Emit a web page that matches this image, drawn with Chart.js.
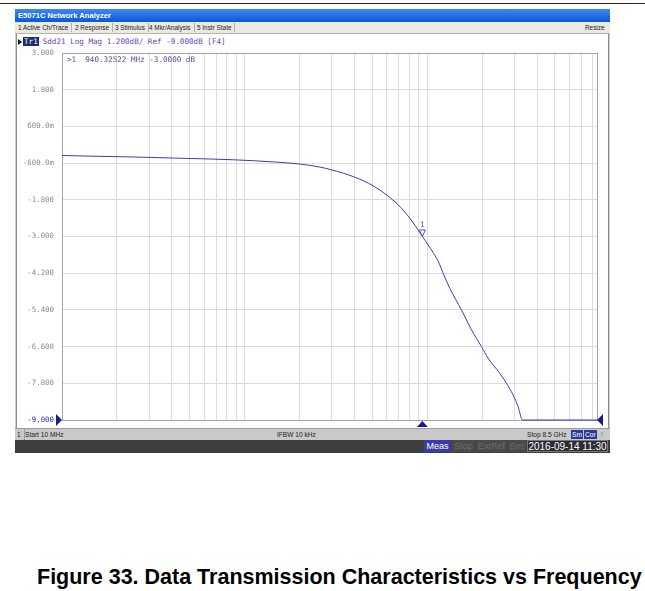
<!DOCTYPE html>
<html>
<head>
<meta charset="utf-8">
<title>Sdd21</title>
<script src="https://cdn.jsdelivr.net/npm/chart.js@4/dist/chart.umd.min.js"></script>
<style>
  body { margin: 0; width: 645px; height: 591px; background: #fff; position: relative; overflow: hidden; font-family: "Liberation Sans", Arial, sans-serif; }
  .abs { position: absolute; }
  #topRule { left: 0; top: 3px; width: 645px; height: 1px; background: #222; }
  #win { left: 15px; top: 9px; width: 595px; height: 444px; background: #d4d0c8; }
  #titlebar { left: 15px; top: 9px; width: 595px; height: 13px; background: linear-gradient(#3d88f4, #0a58d6); color: #fff; font: bold 7.6px "Liberation Sans", sans-serif; line-height: 13px; padding-left: 3px; box-sizing: border-box; }
  #menubar { left: 15px; top: 22px; width: 595px; height: 12px; background: #ece9e2; border-bottom: 1px solid #b4b4b4; box-sizing: border-box; }
  .menu { position: absolute; top: 1px; height: 9px; font: 6.4px "Liberation Sans", sans-serif; line-height: 9px; color: #222; border-right: 1px solid #b0b0b0; padding: 0 3px 0 0; white-space: nowrap; }
  #panel { left: 16px; top: 34px; width: 593px; height: 394px; background: #fff; border-left: 1px solid #8c8c8c; border-right: 1px solid #8c8c8c; box-sizing: border-box; }
  #traceRow { left: 18px; top: 37px; height: 9px; font: 7.6px "DejaVu Sans Mono", monospace; line-height: 9px; color: #6a44b0; white-space: pre; }
  #traceRow .arrow { display: inline-block; width: 0; height: 0; border-top: 3.5px solid transparent; border-bottom: 3.5px solid transparent; border-left: 4px solid #111; vertical-align: -1px; margin-right: 1px; }
  #traceRow .tr { background: #1c2a78; color: #fff; padding: 0 1px; margin-right: 4px; }
  #chartBox { left: 16px; top: 46px; width: 592px; height: 382px; }
  #status { left: 15px; top: 428px; width: 595px; height: 12px; background: #c9c9c9; border-top: 1px solid #9c9c9c; box-sizing: border-box; font: 6.6px "Liberation Sans", sans-serif; line-height: 11px; color: #222; }
  #status span { position: absolute; white-space: nowrap; }
  #status .box { background: #2a3a98; color: #fff; padding: 0 1px; line-height: 9px; top: 1px; }
  #dark { left: 15px; top: 440px; width: 595px; height: 13px; background: #3e3e3e; font: 9px "Liberation Sans", sans-serif; line-height: 12px; }
  #dark span { position: absolute; top: 0; height: 12px; white-space: nowrap; text-align: center; }
  #caption { left: 37px; top: 565px; font: bold 21.5px "Liberation Sans", Arial, sans-serif; color: #000; white-space: nowrap; }
</style>
</head>
<body>
<div class="abs" id="topRule"></div>
<div class="abs" id="win"></div>
<div class="abs" id="titlebar">E5071C Network Analyzer</div>
<div class="abs" id="menubar">
  <span class="menu" style="left:3px">1 Active Ch/Trace</span>
  <span class="menu" style="left:60px">2 Response</span>
  <span class="menu" style="left:100px">3 Stimulus</span>
  <span class="menu" style="left:134px">4 Mkr/Analysis</span>
  <span class="menu" style="left:182px">5 Instr State</span>
  <span class="menu" style="left:570px;border-right:none">Resize</span>
</div>
<div class="abs" id="panel"></div>
<div class="abs" id="traceRow"><span class="arrow"></span><span class="tr">Tr1</span>Sdd21 Log Mag 1.200dB/ Ref -9.000dB [F4]</div>
<div class="abs" id="chartBox"><canvas id="chart" width="592" height="382"></canvas></div>
<div class="abs" id="status">
  <span style="left:2px;border-right:1px solid #999;padding-right:3px">1</span>
  <span style="left:10px">Start 10 MHz</span>
  <span style="left:262px">IFBW 10 kHz</span>
  <span style="left:512px">Stop 8.5 GHz</span>
  <span class="box" style="left:556px">Sm</span>
  <span class="box" style="left:569px">Cor</span>
  <span style="left:586px;color:#777">!</span>
</div>
<div class="abs" id="dark">
  <span style="left:409px;width:27px;background:#3b3ba6;color:#fff">Meas</span>
  <span style="left:437px;width:23px;background:#4a4a4a;color:#6c6c6c">Stop</span>
  <span style="left:461px;width:31px;background:#4a4a4a;color:#6c6c6c">ExtRef</span>
  <span style="left:493px;width:18px;background:#4a4a4a;color:#6c6c6c">Svc</span>
  <span style="left:512px;width:81px;background:#2c2c34;color:#fff;border:1px solid #777;box-sizing:border-box;line-height:11px;font-size:10px">2016-09-14 11:30</span>
</div>
<div class="abs" id="caption">Figure 33. Data Transmission Characteristics vs Frequency</div>

<script>
// Sdd21 trace, frequency in MHz, magnitude in dB
const freqMHz = [10, 13.6, 24.5, 44, 86, 143, 200, 258, 299, 401, 505, 598, 692, 802, 929, 940.32522,
  1076, 1161, 1221, 1328, 1539, 1746, 1981, 2153, 2495, 2715, 2951, 3143, 3321, 8500];
const sdd21 = [-0.35, -0.37, -0.40, -0.44, -0.49, -0.56, -0.63, -0.73, -0.82, -1.06, -1.34, -1.64, -1.96, -2.40, -2.95, -3.00,
  -3.52, -3.87, -4.20, -4.69, -5.40, -6.05, -6.60, -6.98, -7.47, -7.80, -8.18, -8.56, -9.00, -9.00];

const yTicks = [3, 1.8, 0.6, -0.6, -1.8, -3, -4.2, -5.4, -6.6, -7.8, -9];
const yTickLabels = ['3.000', '1.800', '600.0m', '-600.0m', '-1.800', '-3.000', '-4.200', '-5.400', '-6.600', '-7.800', '-9.000'];
const xGridMHz = [20, 30, 40, 50, 60, 70, 80, 90, 100, 200, 300, 400, 500, 600, 700, 800, 900,
  1000, 2000, 3000, 4000, 5000, 6000, 7000, 8000];

const startMHz = 10;
const stopMHz = 8500;
const refLevel = -9;
const markerFreq = 940.32522;
const markerDb = -3.0;

const navy = '#1a1a8c';

// frame, marker 1, stimulus and reference arrows
const analyzerMarks = {
  id: 'analyzerMarks',
  beforeDatasetsDraw(chart) {
    const { ctx, chartArea: a } = chart;
    ctx.save();
    ctx.strokeStyle = '#a4a4a4';
    ctx.lineWidth = 1;
    ctx.strokeRect(Math.round(a.left) + 0.5, Math.round(a.top) + 0.5,
      Math.round(a.right - a.left), Math.round(a.bottom - a.top));
    ctx.restore();
  },
  afterDatasetsDraw(chart) {
    const { ctx, chartArea: a, scales: { x, y } } = chart;
    const mx = x.getPixelForValue(markerFreq);
    const my = y.getPixelForValue(markerDb);
    const ry = y.getPixelForValue(refLevel);
    ctx.save();

    // marker readout
    ctx.fillStyle = '#6a44b0';
    ctx.font = '7.6px "DejaVu Sans Mono", monospace';
    ctx.textBaseline = 'middle';
    ctx.fillText('>1  ' + markerFreq.toFixed(5) + ' MHz ' + markerDb.toFixed(4) + ' dB', a.left + 5, a.top + 7);

    // marker 1 symbol
    ctx.strokeStyle = '#6a44b0';
    ctx.lineWidth = 1;
    ctx.beginPath();
    ctx.moveTo(mx - 3, my - 6.5);
    ctx.lineTo(mx + 3, my - 6.5);
    ctx.lineTo(mx, my);
    ctx.closePath();
    ctx.stroke();
    ctx.textAlign = 'center';
    ctx.fillText('1', mx, my - 11);

    // stimulus marker below the grid
    ctx.fillStyle = navy;
    ctx.beginPath();
    ctx.moveTo(mx - 5.5, a.bottom + 7);
    ctx.lineTo(mx + 5.5, a.bottom + 7);
    ctx.lineTo(mx, a.bottom + 1);
    ctx.closePath();
    ctx.fill();

    // reference level arrows
    ctx.beginPath();
    ctx.moveTo(a.left - 6, ry - 6);
    ctx.lineTo(a.left, ry);
    ctx.lineTo(a.left - 6, ry + 6);
    ctx.closePath();
    ctx.fill();
    ctx.beginPath();
    ctx.moveTo(a.right + 6, ry - 6);
    ctx.lineTo(a.right, ry);
    ctx.lineTo(a.right + 6, ry + 6);
    ctx.closePath();
    ctx.fill();
    ctx.restore();
  }
};

const ctx = document.getElementById('chart').getContext('2d');
const chart = new Chart(ctx, {
  type: 'line',
  data: {
    datasets: [{
      data: freqMHz.map((f, i) => ({ x: f, y: sdd21[i] })),
      borderColor: '#3c3cbc',
      borderWidth: 1,
      pointRadius: 0,
      cubicInterpolationMode: 'monotone',
      clip: false
    }]
  },
  options: {
    responsive: false,
    animation: false,
    events: [],
    layout: { padding: { left: 0, top: 7, right: 11, bottom: 8 } },
    plugins: { legend: { display: false }, tooltip: { enabled: false } },
    scales: {
      x: {
        type: 'logarithmic',
        min: startMHz,
        max: stopMHz,
        afterBuildTicks: (scale) => { scale.ticks = xGridMHz.map((v) => ({ value: v })); },
        afterFit: (scale) => { scale.height = 0; },
        ticks: { display: false },
        grid: { color: '#dcdcdc', drawTicks: false },
        border: { display: false }
      },
      y: {
        min: refLevel,
        max: 3,
        afterBuildTicks: (scale) => { scale.ticks = yTicks.map((v) => ({ value: v })); },
        // fixed label column, no extra room above/below for the labels
        afterFit: (scale) => {
          scale.width = 46;
          scale.paddingTop = 0;
          scale.paddingBottom = 0;
        },
        ticks: {
          callback: (value, i) => yTickLabels[i],
          color: (c) => (c.index === yTicks.length - 1 ? '#2c2cb4' : '#8a8a8a'),
          font: { family: 'DejaVu Sans Mono', size: 7.4 },
          padding: 8
        },
        grid: { color: '#dcdcdc', drawTicks: false },
        border: { display: false }
      }
    }
  },
  plugins: [analyzerMarks]
});
</script>
</body>
</html>
